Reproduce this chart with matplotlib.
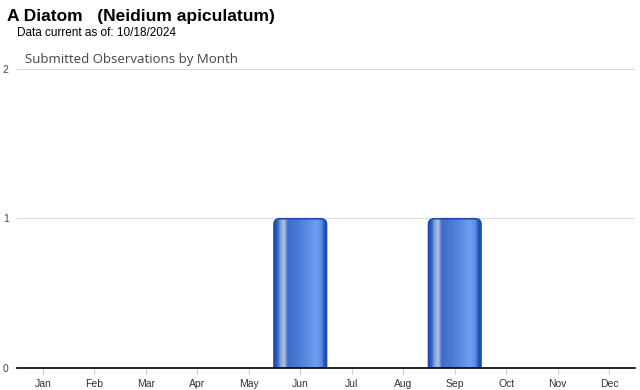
import numpy as np
import matplotlib
matplotlib.use('Agg')
import matplotlib.pyplot as plt
from matplotlib.colors import LinearSegmentedColormap
from matplotlib.patches import FancyBboxPatch

# chart data
months = ['Jan', 'Feb', 'Mar', 'Apr', 'May', 'Jun', 'Jul', 'Aug', 'Sep', 'Oct', 'Nov', 'Dec']
counts = [0, 0, 0, 0, 0, 1, 0, 0, 1, 0, 0, 0]
yticks = [0, 1, 2]

title = 'A Diatom   (Neidium apiculatum)'
subtitle = 'Data current as of: 10/18/2024'
chart_title = 'Submitted Observations by Month'

plt.rcParams['font.family'] = ['Liberation Sans', 'DejaVu Sans']

fig = plt.figure(figsize=(6.4, 3.9), dpi=100)
ax = fig.add_axes([17 / 640, 22 / 390, 618 / 640, 299 / 390])

# cylinder-like horizontal gradient
cyl = LinearSegmentedColormap.from_list('cyl', [
    (0.00, '#1a4cb2'), (0.06, '#2c5cc0'), (0.12, '#7f9fd8'), (0.19, '#b4c4e4'),
    (0.26, '#3d6cca'), (0.45, '#4a7ad6'), (0.80, '#6d9ef0'), (0.90, '#5a8ae6'),
    (0.95, '#2555c0'), (1.00, '#1a4cb2')])
grad = np.linspace(0, 1, 256).reshape(1, -1)

x = np.arange(len(months))
width = 1.02
bars = ax.bar(x, counts, width=width, color='none', edgecolor='none')
aspect = (2 / 299) / (12 / 618)
for rect, c in zip(bars, counts):
    if c <= 0:
        continue
    x0 = rect.get_x()
    w = rect.get_width()
    h = rect.get_height()
    box = FancyBboxPatch((x0 + 0.03, -0.2), w - 0.06, h + 0.2 - 0.012,
                         boxstyle='round,pad=0.03,rounding_size=0.11',
                         mutation_aspect=aspect, facecolor='none',
                         edgecolor='#1a4cb2', linewidth=1.2, zorder=3)
    ax.add_patch(box)
    im = ax.imshow(grad, cmap=cyl, aspect='auto', extent=(x0, x0 + w, -0.3, h + 0.05),
                   zorder=2, interpolation='bilinear')
    im.set_clip_path(box)

ax.set_xlim(-0.5, 11.5)
ax.set_ylim(0, 2)
ax.set_yticks(yticks)
ax.set_yticklabels([str(v) for v in yticks])
ax.set_xticks(x)
ax.set_xticklabels(months)
ax.yaxis.grid(True, color='#dddddd', linewidth=0.8, zorder=0)
ax.set_axisbelow(True)
for s in ['top', 'right', 'left']:
    ax.spines[s].set_visible(False)
ax.spines['bottom'].set_color('black')
ax.spines['bottom'].set_linewidth(1.2)
ax.spines['bottom'].set_zorder(4)
ax.tick_params(axis='y', length=0, labelsize=7.5, labelcolor='#444444', pad=6)
ax.tick_params(axis='x', length=4, color='#cccccc', labelsize=7.5, labelcolor='#333333', pad=4)

fig.text(7 / 640, 1 - 21 / 390, title, fontsize=12.5, fontweight='bold', color='black')
fig.text(17 / 640, 1 - 36 / 390, subtitle, fontsize=8.5, color='black')
fig.text(25 / 640, 1 - 63 / 390, chart_title, fontsize=9.5, color='#444444',
         family=['Open Sans', 'DejaVu Sans'])

fig.savefig('out.png', dpi=100)
